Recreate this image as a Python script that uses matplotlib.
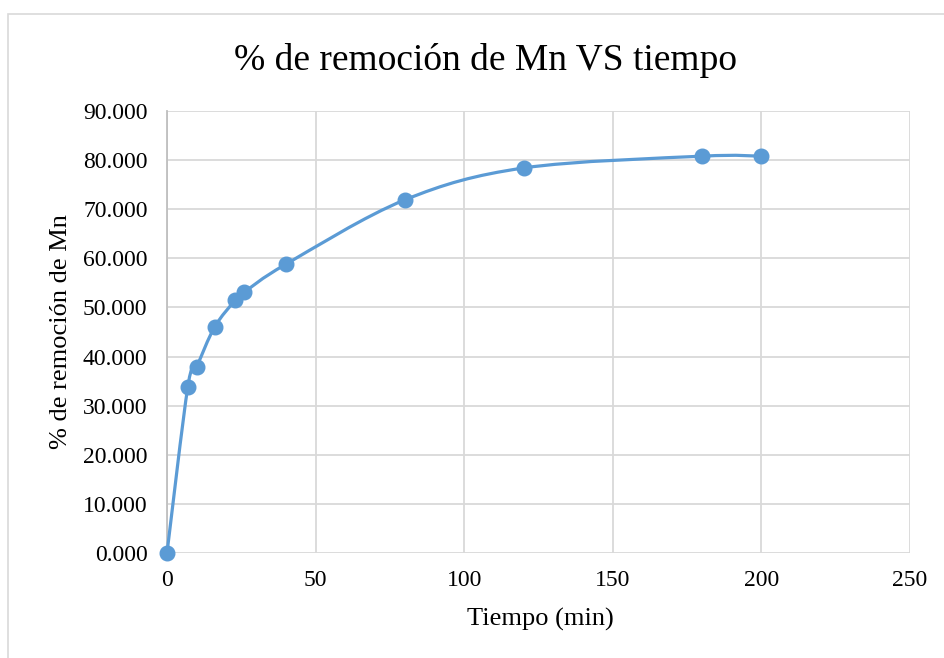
import numpy as np
import matplotlib
matplotlib.use("Agg")
import matplotlib.pyplot as plt
from matplotlib.path import Path
from matplotlib.patches import PathPatch, Rectangle

# Removal of Mn over time
tiempo = [0, 7, 10, 16, 23, 26, 40, 80, 120, 180, 200]
remocion = [0.0, 33.8, 37.9, 46.0, 51.5, 53.1, 58.8, 71.9, 78.4, 80.8, 80.8]

x_ticks = [0, 50, 100, 150, 200, 250]
y_ticks = [0, 10, 20, 30, 40, 50, 60, 70, 80, 90]

titulo = "% de remoción de Mn VS tiempo"
x_label = "Tiempo (min)"
y_label = "% de remoción de Mn"

color = "#5B9BD5"
grid_color = "#D9D9D9"
serif = ["Liberation Serif", "DejaVu Serif"]

fig = plt.figure(figsize=(9.44, 6.58), dpi=100)
fig.patch.set_facecolor("white")

# chart frame
fig.patches.append(Rectangle((8 / 944, -0.05), 1.2, 1 - 14 / 658 + 0.05,
                             transform=fig.transFigure, fill=False,
                             edgecolor="#D9D9D9", linewidth=1.2))

ax = fig.add_axes([167 / 944, 1 - 553 / 658, (910 - 167) / 944, (553 - 111) / 658])
ax.set_xlim(0, 250)
ax.set_ylim(0, 90)
ax.set_xticks(x_ticks)
ax.set_yticks(y_ticks)
ax.set_xticklabels([str(t) for t in x_ticks], fontfamily=serif, fontsize=17)
ax.set_yticklabels([f"{t:.3f}" for t in y_ticks], fontfamily=serif, fontsize=17)
ax.tick_params(length=0, pad=14)
ax.tick_params(axis="x", pad=12)
ax.grid(True, color=grid_color, linewidth=1.3)
ax.set_axisbelow(True)
for side in ["top", "right", "bottom"]:
    ax.spines[side].set_visible(False)
ax.spines["left"].set_color("#BFBFBF")
ax.spines["left"].set_linewidth(1.3)

# smoothed line: Catmull-Rom segments as cubic Bezier curves in display space
pts = ax.transData.transform(np.column_stack([tiempo, remocion]))
n = len(pts)
verts = [pts[0]]
codes = [Path.MOVETO]
for i in range(n - 1):
    p0 = pts[i - 1] if i > 0 else pts[i]
    p1 = pts[i]
    p2 = pts[i + 1]
    p3 = pts[i + 2] if i + 2 < n else pts[i + 1]
    c1 = p1 + (p2 - p0) / 6.0
    c2 = p2 - (p3 - p1) / 6.0
    verts += [c1, c2, p2]
    codes += [Path.CURVE4] * 3
verts = ax.transData.inverted().transform(np.array(verts))
ax.add_patch(PathPatch(Path(verts, codes), facecolor="none", edgecolor=color,
                       linewidth=2.3, capstyle="round", zorder=3, clip_on=False))
ax.plot(tiempo, remocion, linestyle="none", marker="o", markersize=10.5,
        color=color, zorder=4, clip_on=False)

fig.text(485 / 944, 1 - 60 / 658, titulo, ha="center", va="center",
         fontfamily=serif, fontsize=27)
fig.text(540 / 944, 1 - 619 / 658, x_label, ha="center", va="center",
         fontfamily=serif, fontsize=19)
fig.text(61 / 944, 1 - 332 / 658, y_label, ha="center", va="center",
         rotation=90, fontfamily=serif, fontsize=19)

fig.savefig("out.png", dpi=100)
